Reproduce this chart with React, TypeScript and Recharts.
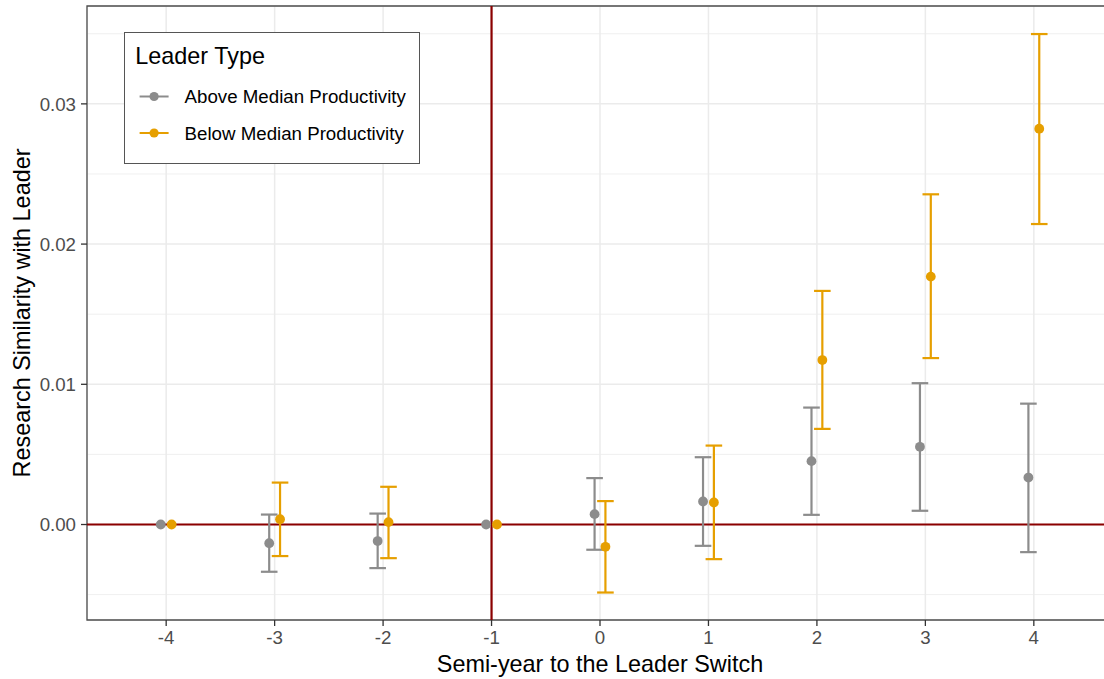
import React from 'react';
import {
  ScatterChart,
  Scatter,
  XAxis,
  YAxis,
  CartesianGrid,
  ErrorBar,
  ReferenceLine,
  ReferenceArea,
  Legend,
} from 'recharts';

// ---- data ----
const semiYears = [-4, -3, -2, -1, 0, 1, 2, 3, 4];

const aboveEst = [0, -0.00133, -0.00118, 0, 0.00074, 0.00164, 0.00452, 0.00554, 0.00335];
const aboveLo = [0, -0.00337, -0.00311, 0, -0.0018, -0.00152, 0.00069, 0.00098, -0.00197];
const aboveHi = [0, 0.00071, 0.00078, 0, 0.00331, 0.0048, 0.00834, 0.01008, 0.00862];

const belowEst = [0, 0.00038, 0.00017, 0, -0.00159, 0.00157, 0.01173, 0.01768, 0.02823];
const belowLo = [0, -0.00225, -0.0024, 0, -0.00485, -0.00247, 0.00682, 0.01187, 0.02143];
const belowHi = [0, 0.00299, 0.00269, 0, 0.00167, 0.00563, 0.01666, 0.02355, 0.03498];

const seriesNames = ['Above Median Productivity', 'Below Median Productivity'];
const seriesColors = ['#8C8C8C', '#E69F00'];
const legendTitle = 'Leader Type';
const xTitle = 'Semi-year to the Leader Switch';
const yTitle = 'Research Similarity with Leader';

const yTicks = [0, 0.01, 0.02, 0.03];
const yMinorTicks = [-0.005, 0.005, 0.015, 0.025, 0.035];
const eventPeriod = -1;

// ---- scale settings ----
const X_DOMAIN: [number, number] = [-4.73, 4.73];
const Y_DOMAIN: [number, number] = [-0.00681, 0.03698];
const DODGE = 0.05;

const FONT = '"Liberation Sans", Arial, Helvetica, sans-serif';
const LINE_RED = '#8B0000';
const DOT_R = 4.9;

function buildSeries(est: number[], lo: number[], hi: number[], shift: number) {
  return semiYears.map((t, i) => ({
    x: t + shift,
    y: est[i],
    err: lo[i] === hi[i] ? null : [est[i] - lo[i], hi[i] - est[i]],
  }));
}

const aboveData = buildSeries(aboveEst, aboveLo, aboveHi, -DODGE);
const belowData = buildSeries(belowEst, belowLo, belowHi, DODGE);

const XTitle = (props: any) => {
  const vb = props.viewBox || {};
  return (
    <text
      x={vb.x + vb.width / 2}
      y={vb.y + 52}
      textAnchor="middle"
      fontFamily={FONT}
      fontSize={23.4}
      fill="#000"
    >
      {xTitle}
    </text>
  );
};

const YTitle = (props: any) => {
  const vb = props.viewBox || {};
  const cx = 30;
  const cy = vb.y + vb.height / 2;
  return (
    <text
      x={cx}
      y={cy}
      textAnchor="middle"
      fontFamily={FONT}
      fontSize={23.4}
      fill="#000"
      transform={`rotate(-90, ${cx}, ${cy})`}
    >
      {yTitle}
    </text>
  );
};

const LegendBox = () => {
  const rows = [64.5, 101];
  return (
    <svg width={296} height={132} style={{ display: 'block' }}>
      <rect x={0.5} y={0.5} width={295} height={131} fill="#fff" stroke="#555" strokeWidth={1} />
      <text x={11.3} y={24} dominantBaseline="central" fontFamily={FONT} fontSize={23.4} fill="#000">
        {legendTitle}
      </text>
      {seriesNames.map((name, i) => (
        <g key={name}>
          <line x1={15.6} x2={44.6} y1={rows[i]} y2={rows[i]} stroke={seriesColors[i]} strokeWidth={2} />
          <circle cx={30.1} cy={rows[i]} r={4.6} fill={seriesColors[i]} />
          <text x={60.6} y={rows[i]} dominantBaseline="central" fontFamily={FONT} fontSize={18.7} fill="#000">
            {name}
          </text>
        </g>
      ))}
    </svg>
  );
};

const makeDot = (color: string) => (p: any) => (
  <circle cx={p.cx} cy={p.cy} r={DOT_R} fill={color} />
);

export default function App() {
  return (
    <div
      style={{
        position: 'absolute',
        left: 0,
        top: 0,
        width: 1104,
        height: 679,
        overflow: 'hidden',
        background: '#fff',
      }}
    >
      <ScatterChart width={1120} height={679} margin={{ top: 6, right: 7, bottom: 0, left: 0 }}>
        <CartesianGrid
          vertical={false}
          horizontalValues={yMinorTicks}
          stroke="#EBEBEB"
          strokeWidth={0.8}
        />
        <CartesianGrid stroke="#EBEBEB" strokeWidth={1.5} />
        <XAxis
          type="number"
          dataKey="x"
          domain={X_DOMAIN}
          ticks={semiYears}
          allowDataOverflow
          interval={0}
          height={59}
          tickSize={6}
          tickMargin={5}
          axisLine={false}
          tickLine={{ stroke: '#333', strokeWidth: 1.3 }}
          tick={{ fill: '#4D4D4D', fontSize: 18.7, fontFamily: FONT }}
          label={<XTitle />}
        />
        <YAxis
          type="number"
          dataKey="y"
          domain={Y_DOMAIN}
          ticks={yTicks}
          allowDataOverflow
          interval={0}
          width={87}
          tickSize={6}
          tickMargin={5}
          axisLine={false}
          tickLine={{ stroke: '#333', strokeWidth: 1.3 }}
          tick={{ fill: '#4D4D4D', fontSize: 18.7, fontFamily: FONT }}
          tickFormatter={(v: number) => v.toFixed(2)}
          label={<YTitle />}
        />
        <ReferenceArea
          x1={X_DOMAIN[0]}
          x2={X_DOMAIN[1]}
          y1={Y_DOMAIN[0]}
          y2={Y_DOMAIN[1]}
          fill="none"
          fillOpacity={0}
          stroke="#4D4D4D"
          strokeWidth={1.3}
          ifOverflow="visible"
        />
        <ReferenceLine x={eventPeriod} stroke={LINE_RED} strokeWidth={2.2} />
        <ReferenceLine y={0} stroke={LINE_RED} strokeWidth={2.2} />
        <Scatter
          name={seriesNames[0]}
          data={aboveData}
          fill={seriesColors[0]}
          isAnimationActive={false}
          shape={makeDot(seriesColors[0])}
        >
          <ErrorBar
            dataKey={(d: any) => d.err}
            direction="y"
            width={8.3}
            stroke={seriesColors[0]}
            strokeWidth={2.2}
            isAnimationActive={false}
          />
        </Scatter>
        <Scatter
          name={seriesNames[1]}
          data={belowData}
          fill={seriesColors[1]}
          isAnimationActive={false}
          shape={makeDot(seriesColors[1])}
        >
          <ErrorBar
            dataKey={(d: any) => d.err}
            direction="y"
            width={8.3}
            stroke={seriesColors[1]}
            strokeWidth={2.2}
            isAnimationActive={false}
          />
        </Scatter>
        <Legend
          layout="horizontal"
          verticalAlign="middle"
          align="center"
          wrapperStyle={{ position: 'absolute', left: 124, top: 32, width: 296, height: 132 }}
          content={() => <LegendBox />}
        />
      </ScatterChart>
    </div>
  );
}
